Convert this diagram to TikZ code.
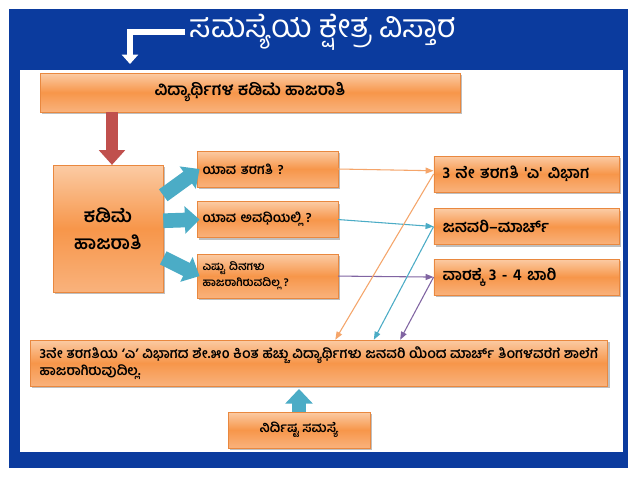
\documentclass[tikz,border=0pt]{standalone}
\usepackage{fontspec}
\newfontfamily\kn[Script=Kannada]{Hind Mysuru}
\usepackage{tikz}
\usetikzlibrary{arrows.meta, positioning, shadows}
\usepackage{xcolor}
\definecolor{bgblue}{HTML}{0B3B9E}
\definecolor{boxtop}{HTML}{FBCBA4}
\definecolor{boxmid}{HTML}{F7964A}
\definecolor{boxbot}{HTML}{F9B27C}
\definecolor{boxline}{HTML}{E9883F}
\definecolor{aqua}{HTML}{4BACC6}
\definecolor{brick}{HTML}{C0504D}
\definecolor{thinorange}{HTML}{F5A56A}
\definecolor{thinviolet}{HTML}{8064A2}

\tikzset{
  box/.style={draw=boxline, rectangle, top color=boxtop, bottom color=boxbot, middle color=boxmid,
    drop shadow={shadow xshift=1.5pt, shadow yshift=-1.5pt, fill=black!50, opacity=.5},
    font=\kn\bfseries\fontsize{10}{12}\selectfont, inner sep=4pt},
  qbox/.style={box, text width=97.5pt, minimum height=27pt, align=left, font=\kn\bfseries\fontsize{10}{12}\selectfont},
  abox/.style={box, text width=126pt, minimum height=27pt, align=left, inner xsep=6.5pt, font=\kn\bfseries\fontsize{12}{14}\selectfont},
  fatarrow/.style={draw=aqua, line width=11pt, -{Triangle[width=20pt, length=11pt]}},
  redarrow/.style={draw=brick, line width=9pt, -{Triangle[width=19pt, length=11pt]}},
  thin/.style={line width=0.8pt, -{Triangle[width=4.5pt, length=6pt]}},
  titlearrow/.style={draw=white, line width=3.8pt, -{Triangle[width=12pt, length=7pt]}}
}

\begin{document}
\begin{tikzpicture}[x=0.75pt, y=-0.75pt]
            \useasboundingbox (0,0) rectangle (638,479);
            \fill[bgblue] (9,9) rectangle (628,468);
            \fill[white] (20,70) rectangle (623,452);

            \node[font=\kn\fontsize{24}{26}\selectfont, text=white] (title) at (323,32) {ಸಮಸ್ಯೆಯ ಕ್ಷೇತ್ರ ವಿಸ್ತಾರ};
            \coordinate (titletip) at (130,64);
            \path [titlearrow] (title.west) -| (titletip);

            \node[box, minimum width=315pt, minimum height=29pt, font=\kn\bfseries\fontsize{12.5}{14}\selectfont] (lowatt) at (250,92.5) {ವಿದ್ಯಾರ್ಥಿಗಳ ಕಡಿಮೆ ಹಾಜರಾತಿ};
            \node[box, minimum width=82.5pt, minimum height=95pt, align=center, font=\kn\bfseries\fontsize{14}{16}\selectfont] (lowbox) at (108,228.5) {ಕಡಿಮೆ\\[4pt]ಹಾಜರಾತಿ};

            \node[qbox] (whichclass) at (267.5,169) {ಯಾವ ತರಗತಿ ?};
            \node[qbox, below=10.5pt of whichclass] (whichperiod) {ಯಾವ ಅವಧಿಯಲ್ಲಿ ?};
            \node[qbox, minimum height=33pt, below=12pt of whichperiod, font=\kn\bfseries\fontsize{8.5}{12}\selectfont] (howmany) {ಎಷ್ಟು ದಿನಗಳು\\ಹಾಜರಾಗಿರುವದಿಲ್ಲ ?};

            \node[abox] (classans) at (526.5,174) {3 ನೇ ತರಗತಿ 'ಎ' ವಿಭಾಗ};
            \node[abox, below=12pt of classans] (periodans) {ಜನವರಿ–ಮಾರ್ಚ್};
            \node[abox, below=10.5pt of periodans] (daysans) {ವಾರಕ್ಕೆ 3 - 4 ಬಾರಿ};

            \node[box, text width=419pt, minimum height=34.5pt, align=justify, inner xsep=7pt, inner ysep=3pt, font=\kn\bfseries\fontsize{10.3}{11.5}\selectfont] (problem) at (319,363)
                {3ನೇ ತರಗತಿಯ  ‘ಎ’ ವಿಭಾಗದ ಶೇ.೫೦ ಕಿಂತ ಹೆಚ್ಚು ವಿದ್ಯಾರ್ಥಿಗಳು ಜನವರಿ ಯಿಂದ ಮಾರ್ಚ್ ತಿಂಗಳವರೆಗೆ ಶಾಲೆಗೆ ಹಾಜರಾಗಿರುವುದಿಲ್ಲ.};
            \node[box, minimum width=106.5pt, minimum height=27pt] (specific) at (299,430) {ನಿರ್ದಿಷ್ಟ ಸಮಸ್ಯೆ};

            % block arrows
            \path [redarrow] ([xshift=3pt]lowatt.south -| lowbox.north) -- ([xshift=3pt]lowbox.north);
            \path [fatarrow] (lowbox.31) -- ([xshift=2pt]whichclass.west);
            \path [fatarrow] (lowbox.8) -- ([xshift=2pt]whichperiod.west);
            \path [fatarrow] (lowbox.-28) -- ([xshift=2pt]howmany.west);
            \path [fatarrow] (specific.north) -- ([yshift=-2pt]specific.north |- problem.south);

            % thin connectors
            \path [draw=thinorange, thin] (whichclass.east) -- (classans.178);
            \path [draw=aqua, thin] (whichperiod.east) -- (periodans.west);
            \path [draw=thinviolet, thin] (howmany.east) -- (daysans.west);
            \path [draw=thinorange, thin] (classans.west) -- (problem.55);
            \path [draw=aqua, thin] (periodans.west) -- (problem.23.5);
            \path [draw=thinviolet, thin] (daysans.west) -- (problem.16.2);
        \end{tikzpicture}
\end{document}
